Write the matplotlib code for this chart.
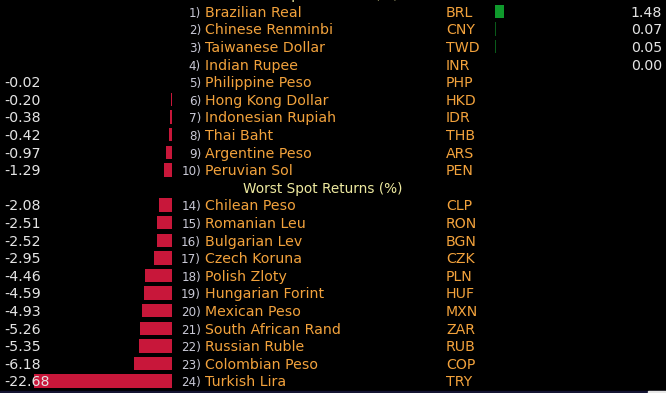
import matplotlib

matplotlib.use("Agg")
import matplotlib.pyplot as plt
from matplotlib.patches import Rectangle

# best performers (rank 1-10)
best_names = [
    "Brazilian Real", "Chinese Renminbi", "Taiwanese Dollar", "Indian Rupee",
    "Philippine Peso", "Hong Kong Dollar", "Indonesian Rupiah", "Thai Baht",
    "Argentine Peso", "Peruvian Sol",
]
best_codes = ["BRL", "CNY", "TWD", "INR", "PHP", "HKD", "IDR", "THB", "ARS", "PEN"]
best_ranks = [1, 2, 3, 4, 5, 6, 7, 8, 9, 10]
best_values = [1.48, 0.07, 0.05, 0.00, -0.02, -0.20, -0.38, -0.42, -0.97, -1.29]

# worst performers (rank 14-24)
worst_names = [
    "Chilean Peso", "Romanian Leu", "Bulgarian Lev", "Czech Koruna",
    "Polish Zloty", "Hungarian Forint", "Mexican Peso", "South African Rand",
    "Russian Ruble", "Colombian Peso", "Turkish Lira",
]
worst_codes = ["CLP", "RON", "BGN", "CZK", "PLN", "HUF", "MXN", "ZAR", "RUB", "COP", "TRY"]
worst_ranks = [14, 15, 16, 17, 18, 19, 20, 21, 22, 23, 24]
worst_values = [-2.08, -2.51, -2.52, -2.95, -4.46, -4.59, -4.93, -5.26, -5.35, -6.18, -22.68]

best_title = "Best Spot Returns (%)"
worst_title = "Worst Spot Returns (%)"

BG = "#000000"
ORANGE = "#f2a23c"
WHITE = "#e4e4e4"
RANK = "#c9c9d6"
YELLOW = "#eeeaa0"
RED = "#c8173a"
GREEN = "#0f9a2c"

W, H = 666, 393
ROW_H = 17.6
FIRST_ROW = 11.5

# rows: best list, then a header row, then worst list
names = best_names + [None] + worst_names
codes = best_codes + [None] + worst_codes
ranks = best_ranks + [None] + worst_ranks
values = best_values + [None] + worst_values
rows = list(range(len(names)))

y_top = -FIRST_ROW / ROW_H
y_bot = (H - FIRST_ROW) / ROW_H

fig = plt.figure(figsize=(W / 100, H / 100), dpi=100, facecolor=BG)

# left bars (negative returns), zero at x=172px, ~6.1 px per unit
px_per_unit = 6.1
ax_neg = fig.add_axes([0, 0, 172 / W, 1])
ax_neg.set_xlim(-172 / px_per_unit, 0)
ax_neg.set_ylim(y_bot, y_top)
ax_neg.axis("off")

# right bars (positive returns), zero at x=495px
ax_pos = fig.add_axes([495 / W, 0, (W - 495) / W, 1])
ax_pos.set_xlim(0, (W - 495) / px_per_unit)
ax_pos.set_ylim(y_bot, y_top)
ax_pos.axis("off")

# overlay axes in pixel x units for the text columns, drawn above the bars
ax = fig.add_axes([0, 0, 1, 1])
ax.set_xlim(0, W)
ax.set_ylim(y_bot, y_top)
ax.axis("off")
ax.set_zorder(5)

neg_rows = [r for r, v in zip(rows, values) if v is not None and v < 0]
neg_vals = [v for v in values if v is not None and v < 0]
pos_rows = [r for r, v in zip(rows, values) if v is not None and v > 0]
pos_vals = [v for v in values if v is not None and v > 0]

ax_neg.barh(neg_rows, neg_vals, height=0.76, color=RED, linewidth=0)
ax_pos.barh(pos_rows, pos_vals, height=0.76, color=GREEN, linewidth=0,
            zorder=2)
# tiny values still show up as a 1px line
for r, v in zip(pos_rows, pos_vals):
    if v * px_per_unit < 1:
        ax_pos.barh(r, 1.2 / px_per_unit, height=0.76, color="#0a5a1a",
                    linewidth=0)

base = 0.30
font = "DejaVu Sans"
fs = 10.2
for r, name, code, rank, val in zip(rows, names, codes, ranks, values):
    if name is None:
        continue
    ax.text(201, r + base, f"{rank})", color=RANK, fontsize=8.6, ha="right",
            va="baseline", family="Liberation Sans Narrow")
    ax.text(205, r + base, name, color=ORANGE, fontsize=fs, ha="left",
            va="baseline", family=font)
    ax.text(446, r + base, code, color=ORANGE, fontsize=fs, ha="left",
            va="baseline", family=font)
    label = f"{val:.2f}"
    if val < 0:
        ax.text(4, r + base, label, color=WHITE, fontsize=fs, ha="left",
                va="baseline", family=font)
    else:
        ax.text(662, r + base, label, color=WHITE, fontsize=fs, ha="right",
                va="baseline", family=font)

header_row = len(best_names)
ax.text(323, header_row + base, worst_title, color=YELLOW, fontsize=9.8,
        ha="center", va="baseline", family=font)
# the best-returns header sits just above the visible window, as in the source
ax.text(323, -1 + base, best_title, color=YELLOW, fontsize=9.8,
        ha="center", va="baseline", family=font)

# terminal status strip at the bottom edge
fig.patches.append(Rectangle((0, 0), 1, 2.5 / H, transform=fig.transFigure,
                             color="#141433", zorder=10))
fig.patches.append(Rectangle((648 / W, 0), 18 / W, 2.5 / H,
                             transform=fig.transFigure, color="#e8e8e8",
                             zorder=11))

fig.savefig("out.png", dpi=100, facecolor=BG)
plt.close(fig)
